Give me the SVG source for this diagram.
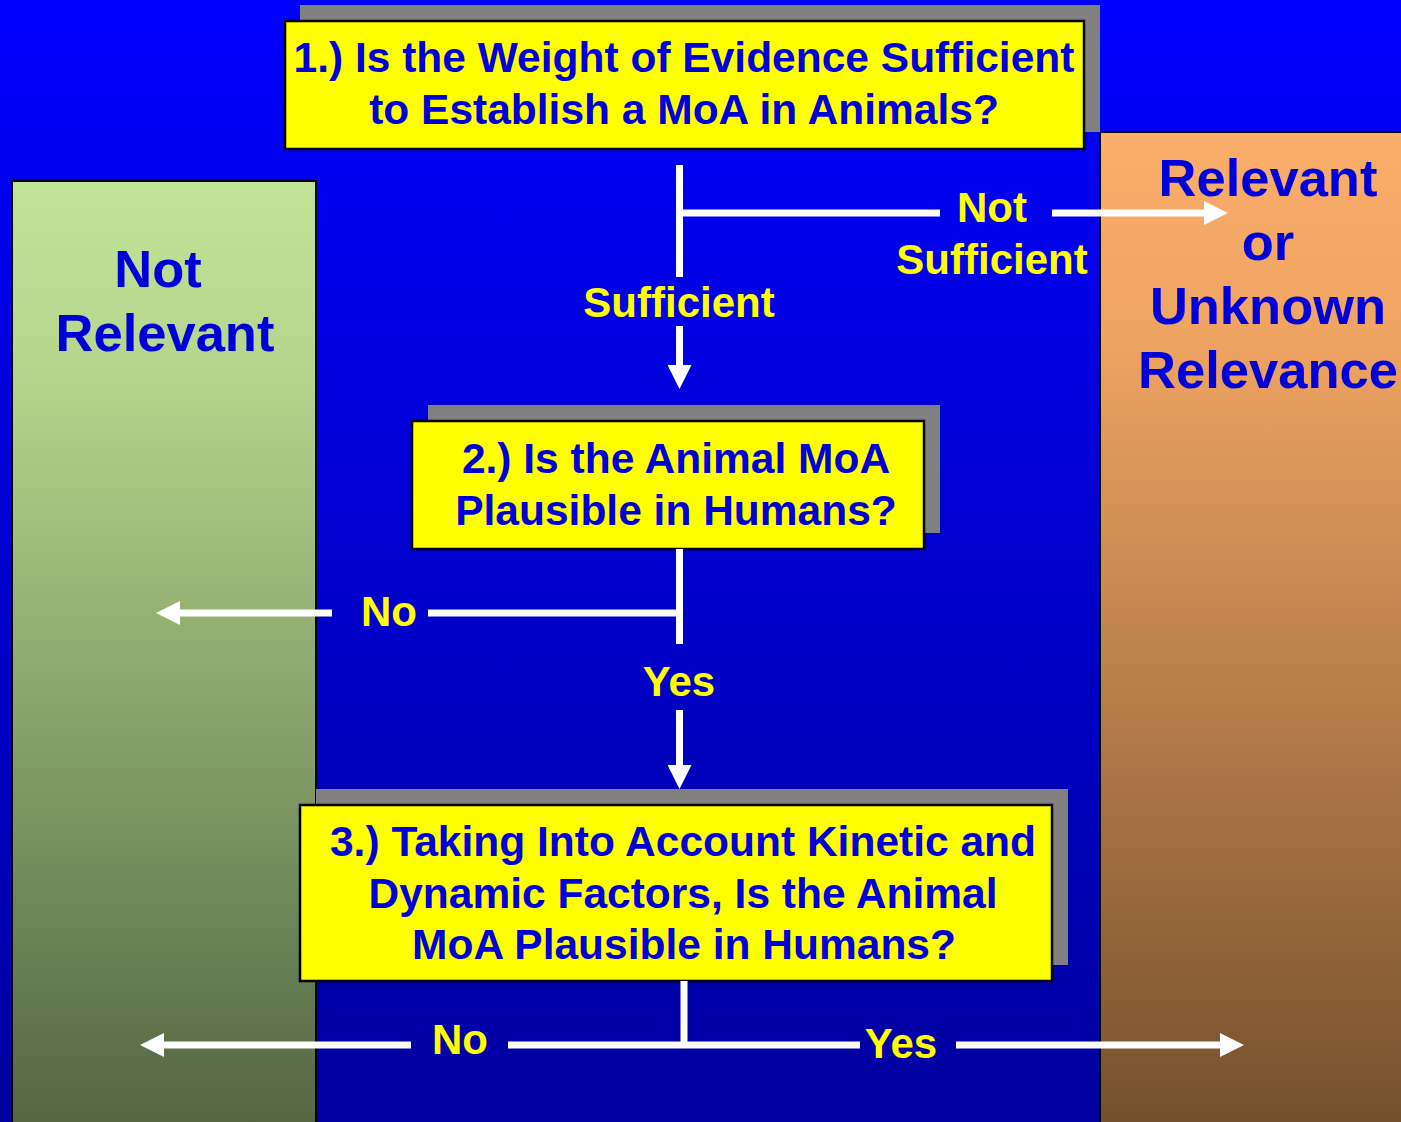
<svg xmlns="http://www.w3.org/2000/svg" width="1401" height="1122" viewBox="0 0 1401 1122">
<defs>
<linearGradient id="bg" x1="0" y1="0" x2="0" y2="1">
<stop offset="0" stop-color="#0000FF"/>
<stop offset="1" stop-color="#00009E"/>
</linearGradient>
<linearGradient id="gl" x1="0" y1="0" x2="0" y2="1">
<stop offset="0" stop-color="#C0E498"/>
<stop offset="0.2" stop-color="#B4D68C"/>
<stop offset="1" stop-color="#536642"/>
</linearGradient>
<linearGradient id="gr" x1="0" y1="0" x2="0" y2="1">
<stop offset="0" stop-color="#FBAE6A"/>
<stop offset="0.2" stop-color="#F0A462"/>
<stop offset="1" stop-color="#74502E"/>
</linearGradient>
<marker id="ah" viewBox="0 0 24 24" refX="0" refY="12" markerWidth="24" markerHeight="24" markerUnits="userSpaceOnUse" orient="auto">
<path d="M0,0 L24,12 L0,24 Z" fill="#FFFFFF"/>
</marker>
</defs>
<style>
.panel{stroke:#000;stroke-width:2}
.shadow{fill:#808080}
.box{fill:#FFFF00;stroke:#000;stroke-width:2.5}
.bt{font-family:"Liberation Sans",Arial,sans-serif;font-weight:bold;font-size:42.5px;fill:#0000D8;text-anchor:middle}
.pt{font-family:"Liberation Sans",Arial,sans-serif;font-weight:bold;font-size:52.5px;fill:#0000D8;text-anchor:middle}
.lt{font-family:"Liberation Sans",Arial,sans-serif;font-weight:bold;font-size:42px;fill:#FFFF00;text-anchor:middle}
.ln{stroke:#FFFFFF;stroke-width:7;fill:none}
</style>
<rect x="0" y="0" width="1401" height="1122" fill="url(#bg)"/>

<g id="not-relevant">
<rect class="panel" x="12" y="181" width="304" height="945" fill="url(#gl)"/>
<text class="pt" x="158" y="287">Not</text>
<text class="pt" x="165" y="351">Relevant</text>
</g>

<g id="relevant-unknown">
<rect class="panel" x="1100" y="132" width="305" height="995" fill="url(#gr)"/>
<text class="pt" x="1268" y="196">Relevant</text>
<text class="pt" x="1268" y="260">or</text>
<text class="pt" x="1268" y="324">Unknown</text>
<text class="pt" x="1268" y="388">Relevance</text>
</g>

<g id="q1">
<rect class="shadow" x="300" y="5" width="800" height="127"/>
<rect class="box" x="285" y="21" width="799" height="128"/>
<text class="bt" x="684" y="72">1.) Is the Weight of Evidence Sufficient</text>
<text class="bt" x="684" y="124">to Establish a MoA in Animals?</text>
</g>

<g id="q2">
<rect class="shadow" x="428" y="405" width="512" height="128"/>
<rect class="box" x="412" y="421" width="512" height="128"/>
<text class="bt" x="676" y="473">2.) Is the Animal MoA</text>
<text class="bt" x="676" y="525">Plausible in Humans?</text>
</g>

<g id="q3">
<rect class="shadow" x="316" y="789" width="752" height="176"/>
<rect class="box" x="300" y="805" width="752" height="176"/>
<text class="bt" x="683" y="856">3.) Taking Into Account Kinetic and</text>
<text class="bt" x="683" y="908">Dynamic Factors, Is the Animal</text>
<text class="bt" x="684" y="959">MoA Plausible in Humans?</text>
</g>

<g id="connectors">
<line class="ln" x1="679.5" y1="165" x2="679.5" y2="277"/>
<line class="ln" x1="679.5" y1="326" x2="679.5" y2="365" marker-end="url(#ah)"/>
<line class="ln" x1="683" y1="213" x2="940" y2="213"/>
<line class="ln" x1="1052" y1="213" x2="1204" y2="213" marker-end="url(#ah)"/>
<line class="ln" x1="679.5" y1="549" x2="679.5" y2="644"/>
<line class="ln" x1="679.5" y1="710" x2="679.5" y2="765" marker-end="url(#ah)"/>
<line class="ln" x1="683" y1="613" x2="428" y2="613"/>
<line class="ln" x1="332" y1="613" x2="180" y2="613" marker-end="url(#ah)"/>
<line class="ln" x1="684" y1="981" x2="684" y2="1045"/>
<line class="ln" x1="411" y1="1045" x2="164" y2="1045" marker-end="url(#ah)"/>
<line class="ln" x1="508" y1="1045" x2="860" y2="1045"/>
<line class="ln" x1="956" y1="1045" x2="1220" y2="1045" marker-end="url(#ah)"/>
<text class="lt" x="992" y="222">Not</text>
<text class="lt" x="992" y="274">Sufficient</text>
<text class="lt" x="679" y="317">Sufficient</text>
<text class="lt" x="389" y="626">No</text>
<text class="lt" x="679" y="696">Yes</text>
<text class="lt" x="460" y="1054">No</text>
<text class="lt" x="901" y="1058">Yes</text>
</g>
</svg>
